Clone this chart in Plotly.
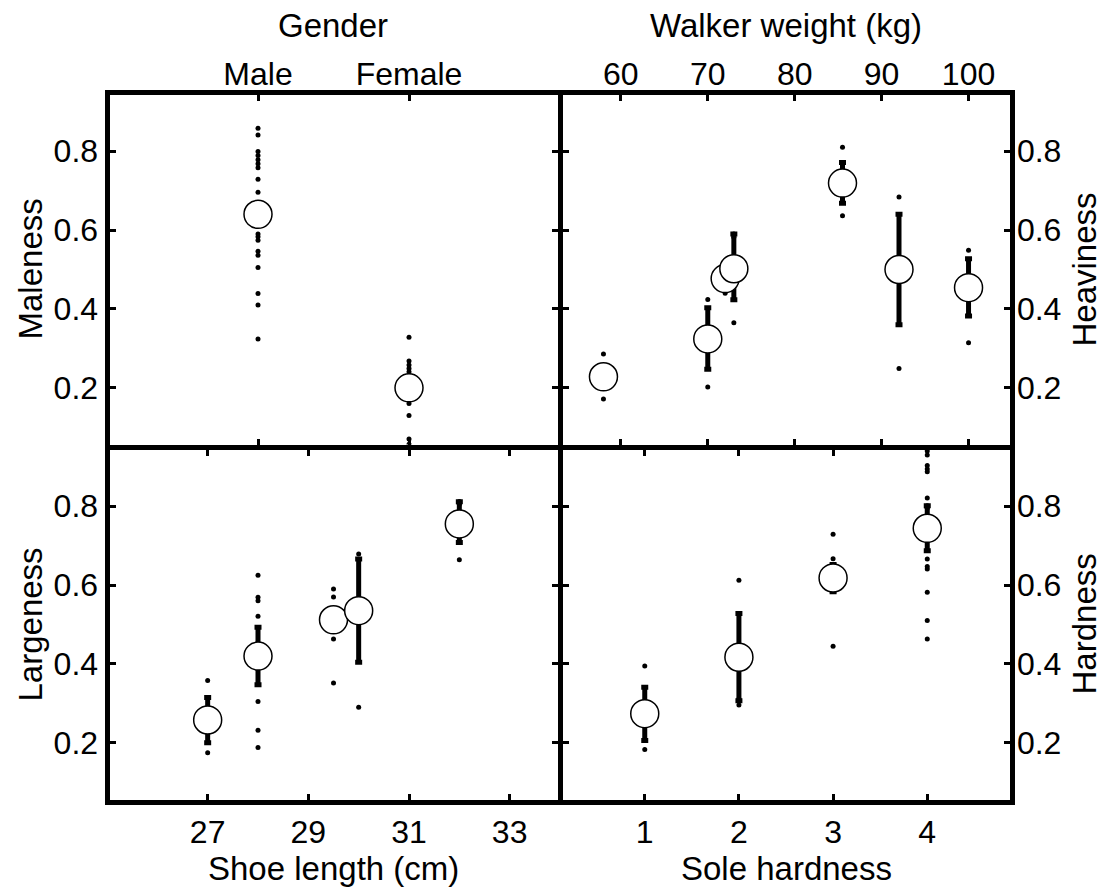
import plotly.graph_objects as go

W, H = 1111, 889

# ---- Gender -> Maleness ----
gender_pos = [1, 2]
gender_labels = ["Male", "Female"]
maleness_mean = [0.64, 0.20]
maleness_lo = [None, None]
maleness_hi = [None, None]
maleness_pts = [
    [0.858, 0.841, 0.799, 0.789, 0.778, 0.768, 0.758, 0.729, 0.696,
     0.590, 0.583, 0.574, 0.546, 0.536, 0.505, 0.439, 0.410, 0.324],
    [0.328, 0.268, 0.258, 0.249, 0.241, 0.160, 0.130, 0.070, 0.057],
]

# ---- Walker weight -> Heaviness ----
weight_kg = [58, 70, 72, 73, 85.5, 92, 100]
weight_ticks = [60, 70, 80, 90, 100]
heaviness_mean = [0.228, 0.324, 0.477, 0.502, 0.719, 0.500, 0.454]
heaviness_lo = [None, 0.247, None, 0.423, 0.668, 0.360, 0.382]
heaviness_hi = [None, 0.403, None, 0.590, 0.771, 0.640, 0.527]
heaviness_pts = [
    [0.286, 0.172],
    [0.424, 0.202],
    [0.440],
    [0.590, 0.582, 0.365],
    [0.810, 0.636],
    [0.684, 0.249],
    [0.549, 0.314],
]

# ---- Shoe length -> Largeness ----
shoe_cm = [27, 28, 29.5, 30, 32]
shoe_ticks = [27, 29, 31, 33]
largeness_mean = [0.258, 0.420, 0.512, 0.535, 0.755]
largeness_lo = [0.200, 0.347, None, 0.404, 0.708]
largeness_hi = [0.315, 0.493, None, 0.666, 0.811]
largeness_pts = [
    [0.358, 0.175],
    [0.625, 0.569, 0.560, 0.521, 0.305, 0.232, 0.188],
    [0.590, 0.570, 0.463, 0.352],
    [0.679, 0.290],
    [0.812, 0.805, 0.664],
]

# ---- Sole hardness -> Hardness ----
sole = [1, 2, 3, 4]
sole_ticks = [1, 2, 3, 4]
hardness_mean = [0.274, 0.417, 0.618, 0.744]
hardness_lo = [0.206, 0.307, 0.583, 0.687]
hardness_hi = [0.341, 0.528, 0.652, 0.801]
hardness_pts = [
    [0.395, 0.183],
    [0.612, 0.311, 0.296],
    [0.729, 0.667, 0.445],
    [0.940, 0.930, 0.903, 0.894, 0.887, 0.821, 0.801, 0.795,
     0.666, 0.647, 0.641, 0.582, 0.510, 0.463],
]

y_ticks = [0.2, 0.4, 0.6, 0.8]
y_range = [0.05, 0.95]

FONT = "Liberation Sans, Arial, Helvetica, sans-serif"
LW = 5            # frame line width
HALF = LW / 2     # plotly draws axis lines just outside the plot area

fig = go.Figure()


def add_panel(xa, ya, xs, means, lo, hi, pts):
    # individual observations
    dx, dy = [], []
    for x, vals in zip(xs, pts):
        dx += [x] * len(vals)
        dy += vals
    fig.add_trace(go.Scatter(
        x=dx, y=dy, mode="markers", xaxis=xa, yaxis=ya,
        marker=dict(size=5, color="black"), showlegend=False, hoverinfo="skip"))
    # interval bars
    ex, ey, ep, em = [], [], [], []
    for x, m, l, h in zip(xs, means, lo, hi):
        if l is None or h is None:
            continue
        ex.append(x); ey.append(m); ep.append(h - m); em.append(m - l)
    if ex:
        fig.add_trace(go.Scatter(
            x=ex, y=ey, mode="markers", xaxis=xa, yaxis=ya,
            marker=dict(size=1, color="rgba(0,0,0,0)"),
            error_y=dict(type="data", symmetric=False, array=ep, arrayminus=em,
                         thickness=5, width=3.5, color="black"),
            showlegend=False, hoverinfo="skip"))
    # group means
    fig.add_trace(go.Scatter(
        x=xs, y=means, mode="markers", xaxis=xa, yaxis=ya,
        marker=dict(size=28, color="white", line=dict(color="black", width=1.5)),
        showlegend=False, hoverinfo="skip"))


add_panel("x", "y", gender_pos, maleness_mean, maleness_lo, maleness_hi, maleness_pts)
add_panel("x2", "y2", weight_kg, heaviness_mean, heaviness_lo, heaviness_hi, heaviness_pts)
add_panel("x3", "y3", shoe_cm, largeness_mean, largeness_lo, largeness_hi, largeness_pts)
add_panel("x4", "y4", sole, hardness_mean, hardness_lo, hardness_hi, hardness_pts)

# frame line centres in pixels
FX = [107, 560, 1012]
FY = [92, 447, 802]


def xdom(a, b):
    return [(a + HALF) / W, (b - HALF) / W]


def ydom(top, bottom):
    return [1 - (bottom - HALF) / H, 1 - (top + HALF) / H]


def inset(r, span):
    # shrink the range so the values at the frame-line centres stay put
    u = (r[1] - r[0]) / span
    return [r[0] + HALF * u, r[1] - HALF * u]


common = dict(showline=True, linecolor="black", linewidth=LW, mirror="ticks",
              ticks="inside", ticklen=6, tickwidth=3, tickcolor="black",
              showgrid=False, zeroline=False, fixedrange=True,
              tickfont=dict(family=FONT, size=32, color="black"))

yspan = FY[1] - FY[0]
fig.update_layout(
    width=W, height=H,
    margin=dict(l=0, r=0, t=0, b=0),
    paper_bgcolor="white", plot_bgcolor="white",
    font=dict(family=FONT, size=32, color="black"),
    xaxis=dict(common, domain=xdom(FX[0], FX[1]), anchor="y", side="top",
               range=inset([0, 3], FX[1] - FX[0]), ticklabelstandoff=-8,
               tickmode="array", tickvals=gender_pos, ticktext=gender_labels),
    yaxis=dict(common, domain=ydom(FY[0], FY[1]), anchor="x", side="left",
               range=inset(y_range, yspan), tickmode="array", tickvals=y_ticks),
    xaxis2=dict(common, domain=xdom(FX[1], FX[2]), anchor="y2", side="top",
                range=inset([53, 105], FX[2] - FX[1]), ticklabelstandoff=-8,
                tickmode="array", tickvals=weight_ticks),
    yaxis2=dict(common, domain=ydom(FY[0], FY[1]), anchor="x2", side="right",
                range=inset(y_range, yspan), ticklabelstandoff=-4,
                tickmode="array", tickvals=y_ticks),
    xaxis3=dict(common, domain=xdom(FX[0], FX[1]), anchor="y3", side="bottom",
                range=inset([25, 34], FX[1] - FX[0]),
                tickmode="array", tickvals=shoe_ticks),
    yaxis3=dict(common, domain=ydom(FY[1], FY[2]), anchor="x3", side="left",
                range=inset(y_range, yspan), tickmode="array", tickvals=y_ticks),
    xaxis4=dict(common, domain=xdom(FX[1], FX[2]), anchor="y4", side="bottom",
                range=inset([0.1, 4.9], FX[2] - FX[1]),
                tickmode="array", tickvals=sole_ticks),
    yaxis4=dict(common, domain=ydom(FY[1], FY[2]), anchor="x4", side="right",
                range=inset(y_range, yspan), ticklabelstandoff=-4,
                tickmode="array", tickvals=y_ticks),
)


def label(text, px, py, angle=0, size=33):
    fig.add_annotation(text=text, x=px / W, y=1 - py / H, xref="paper", yref="paper",
                       xanchor="center", yanchor="middle", showarrow=False,
                       textangle=angle, font=dict(family=FONT, size=size, color="black"))


label("Gender", 333, 25)
label("Walker weight (kg)", 786, 25)
label("Shoe length (cm)", 333, 868)
label("Sole hardness", 786, 868)
label("Maleness", 30, 269.5, -90)
label("Largeness", 30, 624.5, -90)
label("Heaviness", 1084, 269.5, -90)
label("Hardness", 1084, 624.5, -90)

fig.write_html("out.html")
